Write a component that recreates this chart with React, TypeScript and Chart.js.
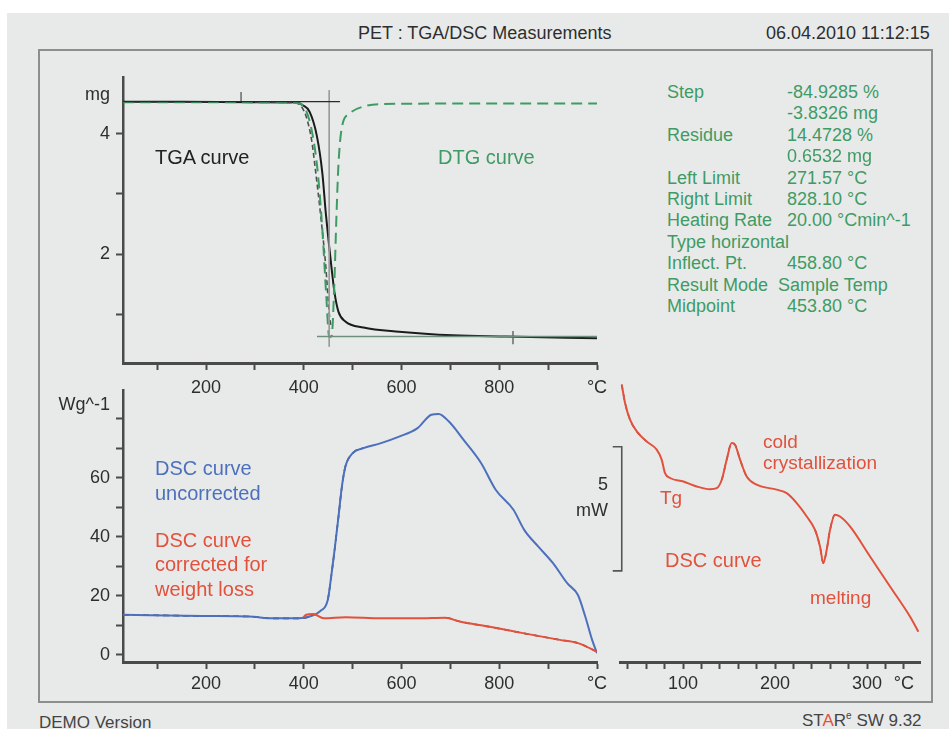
import React, { useEffect, useRef } from "react";
import { Chart, registerables } from "chart.js";
Chart.register(...registerables);

const FONT = '"Liberation Sans", Arial, Helvetica, sans-serif';
Chart.defaults.font.family = FONT;
const AXIS = "#4a4a4a";
const TXT = "#2e2e2e";
const GREEN = "#3f9b64";
const BLUE = "#4d70bd";
const RED = "#e2513c";

// ---------- TGA panel (x: °C, y: mg) ----------
const tgaTemp = [30, 150, 300, 383, 398, 412, 427, 438, 445, 452, 458, 463, 471, 485, 522, 595, 705, 815, 1000];
const tgaMass = [4.53, 4.53, 4.52, 4.52, 4.47, 4.36, 3.95, 3.34, 2.68, 2.12, 1.68, 1.35, 1.04, 0.88, 0.78, 0.71, 0.65, 0.63, 0.6];
const tga2Temp = [300, 383, 395, 405, 416, 423, 434, 445, 452, 456];
const tga2Mass = [4.52, 4.51, 4.45, 4.28, 3.89, 3.45, 2.68, 1.79, 1.02, 0.77];
const dtgTemp = [30, 200, 385, 400, 415, 428, 438, 446, 452, 457, 462, 467, 471, 478, 493, 522, 558, 750, 1000];
const dtgValue = [4.52, 4.52, 4.51, 4.45, 4.1, 3.4, 2.4, 1.3, 0.62, 0.64, 1.4, 2.68, 3.5, 4.11, 4.33, 4.45, 4.49, 4.5, 4.5];
const stepTopTemp = [30, 474];
const stepTopMass = [4.53, 4.53];
const stepBotTemp = [427, 1000];
const stepBotMass = [0.63, 0.63];
const midTemp = [452, 452];
const midMass = [4.72, 0.46];
const leftLimTemp = [271.57, 271.57];
const leftLimMass = [4.69, 4.54];
const rightLimTemp = [828.1, 828.1];
const rightLimMass = [0.72, 0.5];
const tgaXTicks = [100, 200, 300, 400, 500, 600, 700, 800, 900, 1000];
const tgaXLabels = ["", "200", "", "400", "", "600", "", "800", "", "°C"];
const tgaYTicks = [1, 2, 3, 4, 4.64];
const tgaYLabels = ["", "2", "", "4", "mg"];

// ---------- DSC panel (x: °C, y: Wg^-1) ----------
const dscTemp = [30, 193, 288, 339, 390, 412, 434, 449, 456, 463, 471, 478, 485, 500, 522, 558, 595, 632, 661, 676, 697, 727, 763, 793, 829, 851, 880, 910, 939, 961, 976, 990, 1000];
const dscRaw = [13.6, 13.2, 13.0, 12.4, 12.4, 13.0, 14.9, 18.6, 26.5, 35.6, 46.9, 57.1, 63.8, 68.4, 70.1, 71.8, 74.0, 76.8, 81.4, 81.7, 79.1, 72.9, 65.0, 55.9, 49.2, 42.4, 36.7, 31.1, 24.3, 20.3, 13.0, 5.1, 0.6];
const corrTemp = [398, 405, 419, 441, 485, 558, 632, 690, 719, 778, 851, 924, 961, 1000];
const corrValue = [12.6, 13.6, 13.9, 12.4, 12.8, 12.4, 12.4, 12.6, 11.3, 9.6, 7.3, 5.1, 4.0, 1.1];
const dscXTicks = [100, 200, 300, 400, 500, 600, 700, 800, 900, 1000];
const dscXLabels = ["", "200", "", "400", "", "600", "", "800", "", "°C"];
const dscYTicks = [0, 10, 20, 30, 40, 50, 60, 70, 80, 84.7];
const dscYLabels = ["0", "", "20", "", "40", "", "60", "", "", "Wg^-1"];

// ---------- PET DSC panel (x: °C, y: mW) ----------
const petTemp = [33.4, 37.0, 42.4, 49.7, 60.5, 71.4, 76.8, 80.4, 85.9, 100.4, 114.9, 129.3, 136.6, 142.1, 147.5, 152.9, 156.5, 162.0, 169.2, 180.1, 201.8, 212.7, 223.6, 234.5, 243.5, 248.9, 252.5, 256.2, 259.8, 265.2, 270.7, 281.5, 303.3, 325.0, 346.7, 355.8];
const petHeat = [11.17, 10.43, 9.76, 9.29, 8.88, 8.55, 8.15, 7.61, 7.41, 7.27, 7.07, 6.96, 7.0, 7.34, 8.15, 8.82, 8.75, 8.15, 7.47, 7.14, 6.94, 6.8, 6.4, 5.86, 5.32, 4.65, 3.98, 4.52, 5.32, 5.93, 5.86, 5.46, 4.25, 3.04, 1.83, 1.22];
const barTemp = [23.6, 33.4, 33.4, 23.6];
const barHeat = [8.67, 8.67, 3.67, 3.67];
const petXTicks = [40, 60, 80, 100, 120, 140, 160, 180, 200, 220, 240, 260, 280, 300, 320, 340];
const petXLabels = ["", "", "", "100", "", "", "", "", "200", "", "", "", "", "300", "", "°C"];

// ---------- texts ----------
const resultLabels = ["Step", "", "Residue", "", "Left Limit", "Right Limit", "Heating Rate", "Type horizontal", "Inflect. Pt.", "Result Mode", "Midpoint"];
const resultValues = ["-84.9285 %", "-3.8326 mg", "14.4728 %", "0.6532 mg", "271.57 °C", "828.10 °C", "20.00 °Cmin^-1", "", "458.80 °C", "Sample Temp", "453.80 °C"];

function pts(xs: number[], ys: number[]) {
  return xs.map((x, i) => ({ x, y: ys[i] }));
}

function xAxis(min: number, max: number, ticks: number[], labels: string[], height: number, pad: number) {
  return {
    type: "linear",
    min,
    max,
    afterBuildTicks: (s: any) => {
      s.ticks = ticks.map((v) => ({ value: v }));
    },
    afterFit: (s: any) => {
      s.height = height;
      s.paddingLeft = 0;
      s.paddingRight = 0;
    },
    border: { display: true, color: AXIS, width: 3 },
    grid: { drawOnChartArea: false, drawTicks: true, tickLength: 7, tickColor: AXIS, tickWidth: 2 },
    ticks: {
      autoSkip: false,
      maxRotation: 0,
      padding: pad,
      color: TXT,
      font: { size: 18, family: FONT },
      callback: (_v: any, i: number) => labels[i],
    },
  };
}

function yAxis(min: number, max: number, ticks: number[], labels: string[], width: number, unitValue: number) {
  return {
    type: "linear",
    min,
    max,
    afterBuildTicks: (s: any) => {
      s.ticks = ticks.map((v) => ({ value: v }));
    },
    afterFit: (s: any) => {
      s.width = width;
      s.paddingTop = 0;
      s.paddingBottom = 0;
    },
    border: { display: true, color: AXIS, width: 2.5 },
    grid: {
      drawOnChartArea: false,
      drawTicks: true,
      tickLength: 7,
      tickWidth: 2,
      tickColor: (ctx: any) => (ctx.tick && ctx.tick.value === unitValue ? "rgba(0,0,0,0)" : AXIS),
    },
    ticks: {
      autoSkip: false,
      padding: 6,
      color: TXT,
      font: { size: 18, family: FONT },
      callback: (_v: any, i: number) => labels[i],
    },
  };
}

function base(padding: any) {
  return {
    responsive: false,
    animation: false,
    devicePixelRatio: 1,
    events: [],
    layout: { padding },
    plugins: { legend: { display: false }, tooltip: { enabled: false } },
    elements: { point: { radius: 0 } },
  };
}

function curve(data: any[], color: string, width: number, dash: number[] = [], extra: any = {}) {
  return {
    data,
    borderColor: color,
    borderWidth: width,
    borderDash: dash,
    pointRadius: 0,
    fill: false,
    cubicInterpolationMode: "monotone",
    ...extra,
  };
}

function straight(data: any[], color: string, width: number, extra: any = {}) {
  return { data, borderColor: color, borderWidth: width, pointRadius: 0, fill: false, tension: 0, ...extra };
}

const inRanges = (x: number, ranges: number[][]) => ranges.some(([a, b]) => x >= a && x <= b);

function tgaConfig(): any {
  return {
    type: "line",
    data: {
      datasets: [
        straight(pts(stepTopTemp, stepTopMass), "#2a2a2a", 1.3),
        straight(pts(stepBotTemp, stepBotMass), "#6f8f7e", 1.3),
        straight(pts(midTemp, midMass), "#9a9a9a", 1),
        straight(pts(leftLimTemp, leftLimMass), "#555", 1.3),
        straight(pts(rightLimTemp, rightLimMass), "#555", 1.3),
        curve(pts(dtgTemp, dtgValue), GREEN, 2, [11, 6]),
        curve(pts(tga2Temp, tga2Mass), "#505050", 1.6, [5, 3]),
        curve(pts(tgaTemp, tgaMass), "#1b1b1b", 2),
      ],
    },
    options: {
      ...base({ top: 12, right: 15, left: 0, bottom: 0 }),
      scales: {
        x: xAxis(30, 1000, tgaXTicks, tgaXLabels, 42, 7),
        y: yAxis(0.19, 4.94, tgaYTicks, tgaYLabels, 93, 4.64),
      },
    },
  };
}

function dscConfig(): any {
  const rawData = pts(dscTemp, dscRaw);
  const corrData = pts(corrTemp, corrValue);
  return {
    type: "line",
    data: {
      datasets: [
        curve(corrData, RED, 2),
        curve(corrData, "#7a2c22", 1.6, [5, 5], {
          segment: { borderColor: (c: any) => (inRanges(c.p0.parsed.x, [[690, 1000]]) ? "#7a2c22" : "rgba(0,0,0,0)") },
        }),
        curve(rawData, BLUE, 2),
        curve(rawData, "#1e2a48", 1.6, [6, 4], {
          segment: { borderColor: (c: any) => (inRanges(c.p0.parsed.x, [[30, 395], [440, 520]]) ? "#1e2a48" : "rgba(0,0,0,0)") },
        }),
      ],
    },
    options: {
      ...base({ top: 10, right: 15, left: 0, bottom: 0 }),
      scales: {
        x: xAxis(30, 1000, dscXTicks, dscXLabels, 40, 4),
        y: yAxis(-2.4, 89.8, dscYTicks, dscYLabels, 93, 84.7),
      },
    },
  };
}

function petConfig(): any {
  const petData = pts(petTemp, petHeat);
  return {
    type: "line",
    data: {
      datasets: [
        straight(pts(barTemp, barHeat), "#555", 1.6, { clip: false }),
        curve(petData, RED, 2),
        curve(petData, "#6e2a22", 1.5, [5, 5], {
          segment: { borderColor: (c: any) => (inRanges(c.p0.parsed.x, [[33, 50], [140, 165], [240, 262]]) ? "#6e2a22" : "rgba(0,0,0,0)") },
        }),
      ],
    },
    options: {
      ...base({ top: 14, right: 12, left: 8, bottom: 0 }),
      scales: {
        x: xAxis(31.5, 357.6, petXTicks, petXLabels, 40, 4),
        y: { type: "linear", display: false, min: 0, max: 12 },
      },
    },
  };
}

function ChartBox({ left, top, width, height, make }: any) {
  const ref = useRef<HTMLCanvasElement>(null);
  useEffect(() => {
    const chart = new Chart(ref.current as HTMLCanvasElement, make());
    return () => chart.destroy();
  }, []);
  return (
    <canvas
      ref={ref}
      width={width}
      height={height}
      style={{ position: "absolute", left, top, width, height }}
    />
  );
}

function T({ x, y, s = 18, c = TXT, right = false, children }: any) {
  const st: any = {
    position: "absolute",
    top: y,
    transform: "translateY(-50%)",
    fontSize: s,
    color: c,
    fontFamily: FONT,
    lineHeight: 1,
    whiteSpace: "pre",
  };
  if (right) st.right = 949 - x;
  else st.left = x;
  return <div style={st}>{children}</div>;
}

export default function App() {
  return (
    <div style={{ position: "absolute", left: 0, top: 0, width: 949, height: 729, background: "#ffffff", overflow: "hidden" }}>
      <div style={{ position: "absolute", left: 7, top: 13, right: 0, bottom: 0, background: "#e8eaea" }} />
      <div
        style={{
          position: "absolute",
          left: 38,
          top: 49,
          width: 895,
          height: 654,
          border: "2px solid #8d8f8f",
          boxSizing: "border-box",
        }}
      />
      <T x={358} y={33}>PET : TGA/DSC Measurements</T>
      <T x={766} y={33}>06.04.2010 11:12:15</T>

      <ChartBox left={30} top={65} width={582} height={340} make={tgaConfig} />
      <ChartBox left={30} top={380} width={582} height={322} make={dscConfig} />
      <ChartBox left={612} top={350} width={320} height={352} make={petConfig} />

      <T x={155} y={157} s={20} c="#222">TGA curve</T>
      <T x={438} y={157} s={20} c={GREEN}>DTG curve</T>

      {resultLabels.map((l, i) => (
        <T key={"l" + i} x={667} y={92 + i * 21.4} c={GREEN}>{l}</T>
      ))}
      {resultValues.map((v, i) => (
        <T key={"v" + i} x={i === 9 ? 778 : 787} y={92 + i * 21.4} c={GREEN}>{v}</T>
      ))}

      <T x={155} y={468} s={20} c={BLUE}>DSC curve</T>
      <T x={155} y={493} s={20} c={BLUE}>uncorrected</T>
      <T x={155} y={540} s={20} c={RED}>DSC curve</T>
      <T x={155} y={564} s={20} c={RED}>corrected for</T>
      <T x={155} y={589} s={20} c={RED}>weight loss</T>

      <T x={608} y={484} right>5</T>
      <T x={608} y={510} right>mW</T>

      <T x={763} y={441} s={19} c={RED}>cold</T>
      <T x={763} y={462} s={19} c={RED}>crystallization</T>
      <T x={660} y={497} s={19} c={RED}>Tg</T>
      <T x={665} y={560} s={20} c={RED}>DSC curve</T>
      <T x={810} y={597} s={19} c={RED}>melting</T>

      <T x={39} y={722} s={17} c="#444">DEMO Version</T>
      <T x={802} y={720} s={17} c="#444">
        ST<span style={{ color: RED }}>A</span>R<sup style={{ fontSize: 10 }}>e</sup> SW 9.32
      </T>
    </div>
  );
}
